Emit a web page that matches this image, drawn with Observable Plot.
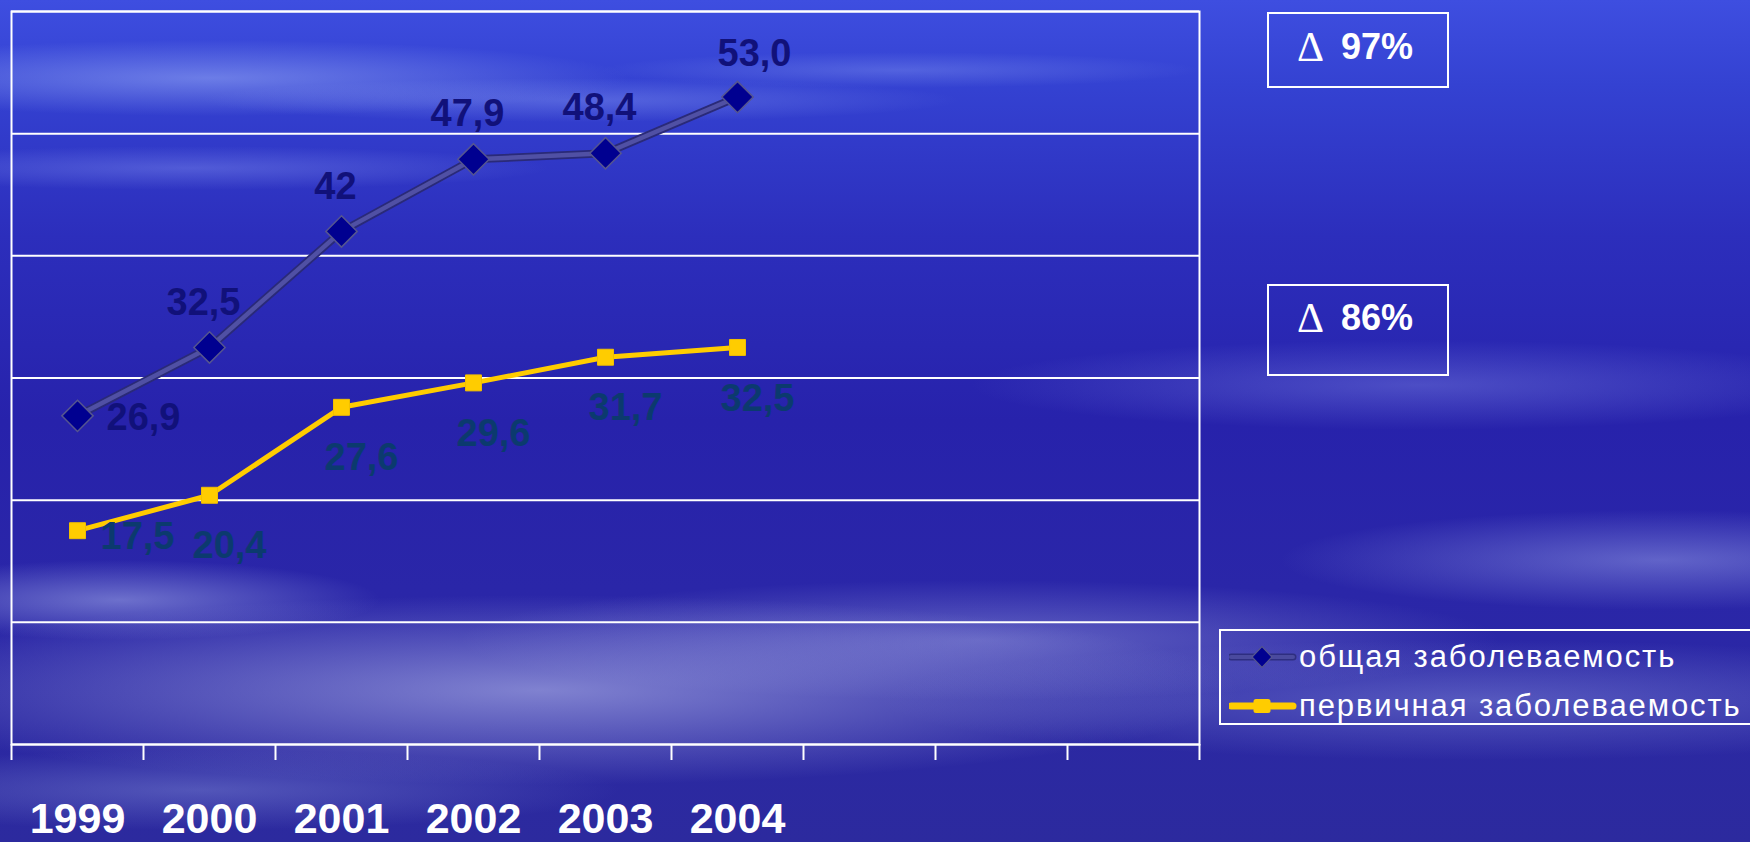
<!DOCTYPE html>
<html>
<head>
<meta charset="utf-8">
<script src="https://cdn.jsdelivr.net/npm/d3@7"></script>
<script src="https://cdn.jsdelivr.net/npm/@observablehq/plot@0.6"></script>
<style>
html, body { margin: 0; padding: 0; }
#stage {
  position: relative; width: 1750px; height: 842px; overflow: hidden;
  background:
    radial-gradient(ellipse 420px 38px at 210px 78px, rgba(175,195,255,0.45), rgba(175,195,255,0)),
    radial-gradient(ellipse 380px 22px at 580px 100px, rgba(165,185,255,0.30), rgba(165,185,255,0)),
    radial-gradient(ellipse 360px 22px at 190px 168px, rgba(160,175,255,0.30), rgba(160,175,255,0)),
    radial-gradient(ellipse 300px 18px at 900px 70px, rgba(170,190,255,0.25), rgba(170,190,255,0)),
    radial-gradient(ellipse 260px 40px at 120px 600px, rgba(175,185,240,0.50), rgba(175,185,240,0)),
    radial-gradient(ellipse 700px 95px at 540px 690px, rgba(180,185,235,0.62), rgba(180,185,235,0)),
    radial-gradient(ellipse 520px 60px at 980px 640px, rgba(165,170,230,0.45), rgba(165,170,230,0)),
    radial-gradient(ellipse 450px 45px at 1420px 385px, rgba(145,155,240,0.35), rgba(145,155,240,0)),
    radial-gradient(ellipse 380px 50px at 1660px 560px, rgba(165,175,240,0.45), rgba(165,175,240,0)),
    radial-gradient(ellipse 600px 60px at 1480px 700px, rgba(150,160,230,0.40), rgba(150,160,230,0)),
    radial-gradient(ellipse 420px 40px at 200px 790px, rgba(130,140,215,0.45), rgba(130,140,215,0)),
    linear-gradient(180deg, #3e4ee0 0%, #3442d2 10%, #2c2ebc 28%, #2722ab 50%, #2a26a8 70%, #2c2a9e 100%);
  font-family: "Liberation Sans", Arial, sans-serif;
}
#chart { position: absolute; left: 0; top: 0; }
.delta {
  position: absolute; left: 1267px; width: 182px; box-sizing: border-box;
  border: 2px solid #fff; color: #fff;
}
.delta .sym { position: absolute; left: 28px; font-family: "Liberation Serif", "Times New Roman", serif; font-size: 42px; font-weight: normal; line-height: 42px; }
.delta .val { position: absolute; left: 72px; font-family: "Liberation Sans", Arial, sans-serif; font-size: 36px; font-weight: bold; line-height: 42px; }
#legend {
  position: absolute; left: 1219px; top: 629px; width: 560px; height: 96px;
  box-sizing: border-box; border: 2px solid #fff; border-right: none;
}
.lrow { position: absolute; left: 1229px; height: 36px; line-height: 36px; color: #fff; font-size: 31px; letter-spacing: 1.9px; white-space: nowrap; }
.lrow svg { position: absolute; left: 0; top: 7px; }
.lrow span { position: absolute; left: 70px; top: 0; }
</style>
</head>
<body>
<div id="stage">
  <div id="chart"></div>
  <div id="legend"></div>
</div>
<script>
// ---- data ----
const years = ["1999", "2000", "2001", "2002", "2003", "2004"];
const slotCount = 9;
const generalValues = [26.9, 32.5, 42, 47.9, 48.4, 53.0];
const primaryValues = [17.5, 20.4, 27.6, 29.6, 31.7, 32.5];
const generalLabels = ["26,9", "32,5", "42", "47,9", "48,4", "53,0"];
const primaryLabels = ["17,5", "20,4", "27,6", "29,6", "31,7", "32,5"];
const yTicks = [0, 10, 20, 30, 40, 50, 60];
const seriesNames = ["общая заболеваемость", "первичная заболеваемость"];
const deltaLabels = ["97%", "86%"];

// ---- tables ----
const general = years.map((year, i) => ({i, year, x: i + 0.5, v: generalValues[i], label: generalLabels[i]}));
const primary = years.map((year, i) => ({i, year, x: i + 0.5, v: primaryValues[i], label: primaryLabels[i]}));

const diamond = {
  draw(context, size) {
    const a = Math.sqrt(size / 2);
    context.moveTo(0, -a);
    context.lineTo(a, 0);
    context.lineTo(0, a);
    context.lineTo(-a, 0);
    context.closePath();
  }
};

const genLabelFill = "#11117a";
const primLabelFill = "#0b3a6e";
const labelFont = {fontSize: 38, fontWeight: "bold"};

const chart = Plot.plot({
  width: 1750,
  height: 842,
  marginLeft: 11,
  marginRight: 551,
  marginTop: 11,
  marginBottom: 98,
  style: {background: "transparent", fontFamily: "'Liberation Sans', Arial, sans-serif", overflow: "visible"},
  x: {domain: [0, slotCount], axis: null},
  y: {domain: [0, 60], axis: null},
  marks: [
    Plot.ruleY(yTicks, {stroke: "#fff", strokeWidth: 2}),
    Plot.frame({stroke: "#fff", strokeWidth: 2}),
    Plot.axisX(d3.range(0, slotCount + 1), {tickSize: 16, tickFormat: () => "", stroke: "#fff", strokeWidth: 2, label: null}),
    Plot.text(general, {x: "x", text: "year", frameAnchor: "bottom", dy: 75, lineAnchor: "middle", fill: "#fff", fontSize: 43, fontWeight: "bold"}),

    // general series
    Plot.line(general, {x: "x", y: "v", stroke: "#2a2a78", strokeWidth: 8}),
    Plot.line(general, {x: "x", y: "v", stroke: "#5050a4", strokeWidth: 4.5}),
    Plot.dot(general, {x: "x", y: "v", symbol: diamond, r: 12.5, fill: "#000090", stroke: "#55558f", strokeWidth: 1.5}),

    // primary series
    Plot.line(primary, {x: "x", y: "v", stroke: "#ffcc00", strokeWidth: 5}),
    Plot.dot(primary, {x: "x", y: "v", symbol: "square", r: 9, fill: "#ffcc00", stroke: "#f2c000", strokeWidth: 1}),

    // general labels
    Plot.text(general, {filter: d => d.i === 0, x: "x", y: "v", text: "label", dx: 66, dy: 2, fill: genLabelFill, ...labelFont}),
    Plot.text(general, {filter: d => d.i > 0 && d.i < years.length - 1, x: "x", y: "v", text: "label", dx: -6, dy: -45, fill: genLabelFill, ...labelFont}),
    Plot.text(general, {filter: d => d.i === years.length - 1, x: "x", y: "v", text: "label", dx: 17, dy: -43, fill: genLabelFill, ...labelFont}),

    // primary labels
    Plot.text(primary, {filter: d => d.i === 0, x: "x", y: "v", text: "label", dx: 60, dy: 6, fill: primLabelFill, ...labelFont}),
    Plot.text(primary, {filter: d => d.i > 0, x: "x", y: "v", text: "label", dx: 20, dy: 51, fill: primLabelFill, ...labelFont})
  ]
});
document.getElementById("chart").appendChild(chart);

// ---- delta boxes ----
const stage = document.getElementById("stage");
const deltaBoxes = [{top: 12, height: 76, textTop: 24}, {top: 284, height: 92, textTop: 295}];
deltaLabels.forEach((label, k) => {
  const box = document.createElement("div");
  box.className = "delta";
  box.style.top = deltaBoxes[k].top + "px";
  box.style.height = deltaBoxes[k].height + "px";
  const off = deltaBoxes[k].textTop - deltaBoxes[k].top;
  box.innerHTML = `<span class="sym" style="top:${off}px">Δ</span><span class="val" style="top:${off}px">${label}</span>`;
  stage.appendChild(box);
});

// ---- legend ----
const legendRows = [
  {top: 639, line: "#2e2e80", inner: "#4a4a9e", marker: "diamond"},
  {top: 688, line: "#ffcc00", inner: "#ffcc00", marker: "square"}
];
seriesNames.forEach((name, k) => {
  const r = legendRows[k];
  const row = document.createElement("div");
  row.className = "lrow";
  row.style.top = r.top + "px";
  const sym = r.marker === "diamond"
    ? `<path d="M33,0.5 L43,11 L33,21.5 L23,11 Z" fill="#000090" stroke="#55558f" stroke-width="1.2"/>`
    : `<rect x="24.5" y="4" width="17" height="14" rx="2.5" fill="#ffcc00"/>`;
  row.innerHTML = `<svg width="68" height="22"><line x1="2" y1="11" x2="64" y2="11" stroke="${r.line}" stroke-width="7" stroke-linecap="round"/><line x1="2" y1="11" x2="64" y2="11" stroke="${r.inner}" stroke-width="4" stroke-linecap="round"/>${sym}</svg><span>${name}</span>`;
  stage.appendChild(row);
});
</script>
</body>
</html>
